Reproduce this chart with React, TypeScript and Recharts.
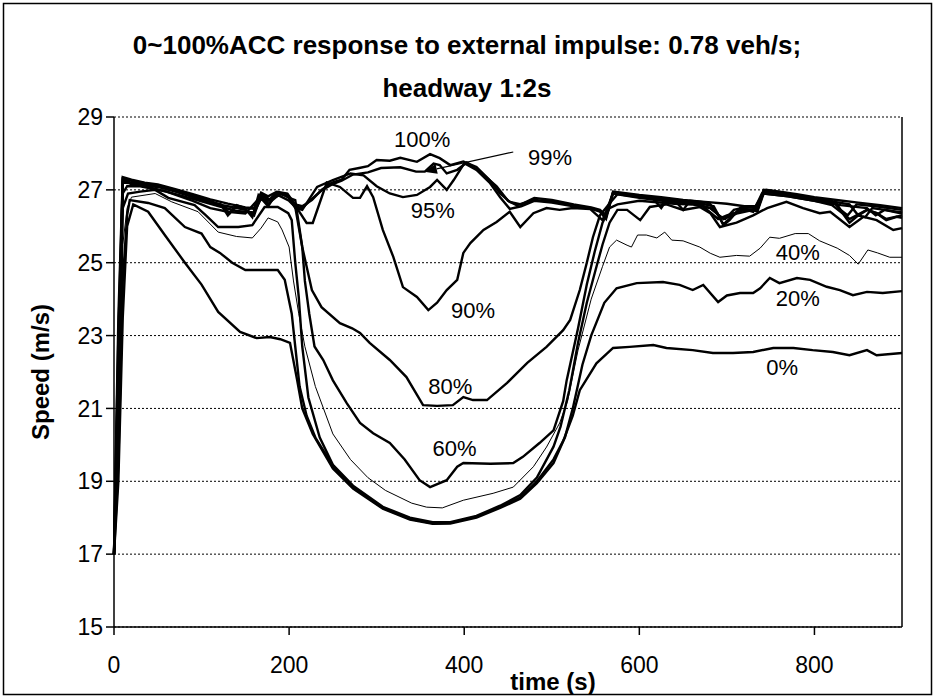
import {
  LineChart,
  Line,
  XAxis,
  YAxis,
  CartesianGrid,
  ReferenceLine,
  ReferenceDot,
} from "recharts"

const FONT = '"Liberation Sans", Arial, Helvetica, sans-serif'

// [time (s), speed (m/s)], one list per penetration rate
const acc100: [number, number][] = [
  [0, 17], [5, 23.5], [10, 27.35], [20, 27.28], [35, 27.2], [50, 27.15], [70, 27.02], [90, 26.88],
  [110, 26.74], [130, 26.62], [150, 26.52], [160, 26.5], [168, 26.92], [176, 26.82], [186, 26.95],
  [198, 26.9], [207, 26.6], [215, 26.55], [226, 26.72], [237, 27.0], [249, 27.2], [260, 27.28],
  [269, 27.55], [280, 27.6], [290, 27.65], [300, 27.82], [315, 27.8], [327, 27.88], [346, 27.77],
  [361, 27.98], [372, 27.87], [384, 27.68], [399, 27.78], [414, 27.63], [429, 27.27], [441, 26.9],
  [452, 26.67], [465, 26.6], [480, 26.78], [500, 26.72], [525, 26.6], [545, 26.52], [555, 26.45],
  [562, 26.3], [570, 26.95], [600, 26.86], [625, 26.8], [650, 26.72], [675, 26.67], [700, 26.62],
  [720, 26.55], [735, 26.55], [742, 27.0], [760, 26.95], [780, 26.88], [800, 26.8], [825, 26.72],
  [850, 26.65], [875, 26.58], [900, 26.5],
]

const acc99: [number, number][] = [
  [0, 17], [5, 23], [10, 27.3], [20, 27.25], [35, 27.18], [50, 27.12], [70, 27.0], [90, 26.85],
  [110, 26.7], [125, 26.55], [132, 26.35], [140, 26.58], [150, 26.5], [160, 26.48], [168, 26.9],
  [176, 26.7], [186, 26.93], [198, 26.88], [207, 26.55], [215, 26.5], [226, 26.75], [237, 26.98],
  [249, 27.15], [260, 27.25], [273, 27.42], [290, 27.48], [305, 27.6], [327, 27.62], [345, 27.5],
  [355, 27.5], [365, 27.72], [372, 27.68], [380, 27.45], [392, 27.55], [403, 27.75], [418, 27.5],
  [437, 27.1], [450, 26.7], [460, 26.58], [480, 26.72], [500, 26.68], [525, 26.58], [545, 26.5],
  [555, 26.42], [562, 26.25], [570, 26.93], [600, 26.84], [640, 26.72], [650, 26.45], [658, 26.7],
  [680, 26.64], [690, 26.3], [698, 26.2], [708, 26.45], [720, 26.52], [735, 26.5], [742, 26.98],
  [760, 26.92], [800, 26.77], [820, 26.7], [830, 26.45], [838, 26.3], [848, 26.6], [870, 26.55],
  [900, 26.45],
]

const acc95: [number, number][] = [
  [0, 17], [5, 22.5], [10, 27.25], [20, 27.2], [35, 27.15], [50, 27.1], [70, 26.98], [90, 26.82],
  [110, 26.66], [122, 26.6], [130, 26.3], [138, 26.55], [150, 26.48], [158, 26.25], [165, 26.85],
  [176, 26.55], [186, 26.92], [198, 26.85], [207, 26.5], [215, 26.45], [232, 27.08], [250, 27.27],
  [270, 27.45], [285, 27.4], [300, 27.1], [315, 26.9], [330, 26.8], [346, 26.86], [361, 27.08],
  [369, 27.27], [380, 27.0], [388, 27.27], [400, 27.73], [414, 27.55], [429, 27.2], [441, 26.8],
  [452, 26.48], [465, 26.55], [480, 26.7], [500, 26.65], [525, 26.55], [545, 26.48], [555, 26.4],
  [562, 26.2], [570, 26.92], [600, 26.82], [615, 26.78], [625, 26.5], [632, 26.75], [660, 26.68],
  [685, 26.55], [696, 26.05], [705, 26.25], [715, 26.48], [735, 26.45], [742, 26.95], [760, 26.9],
  [800, 26.75], [820, 26.68], [840, 26.6], [850, 26.3], [858, 26.25], [866, 26.5], [880, 26.45],
  [900, 26.38],
]

const acc90: [number, number][] = [
  [0, 17], [5, 22], [10, 27.2], [20, 27.18], [35, 27.12], [50, 27.08], [70, 26.95], [90, 26.8],
  [110, 26.64], [130, 26.55], [150, 26.45], [160, 26.3], [168, 26.85], [176, 26.6], [186, 26.9],
  [198, 26.85], [209, 26.5], [220, 26.09], [227, 26.09], [243, 27.2], [258, 27.08], [273, 26.78],
  [281, 26.78], [289, 27.1], [296, 26.8], [307, 25.9], [319, 25.16], [330, 24.33], [346, 24.06],
  [359, 23.7], [369, 23.9], [380, 24.25], [392, 24.53], [399, 25.27], [407, 25.54], [422, 25.9],
  [437, 26.12], [452, 26.4], [464, 25.98], [479, 26.36], [494, 26.5], [509, 26.45], [524, 26.5],
  [544, 26.47], [558, 26.17], [570, 26.9], [600, 26.8], [640, 26.7], [660, 26.65], [681, 26.5],
  [689, 26.36], [696, 26.03], [703, 26.17], [715, 26.5], [730, 26.4], [740, 26.9], [745, 27.0],
  [770, 26.9], [800, 26.75], [825, 26.64], [832, 26.36], [840, 26.1], [848, 26.26], [860, 26.45],
  [871, 26.36], [882, 26.17], [894, 26.26], [900, 26.23],
]

const acc80: [number, number][] = [
  [0, 17], [5, 21.5], [10, 27.3], [20, 27.15], [35, 27.1], [60, 26.95], [90, 26.75], [120, 26.55],
  [140, 26.42], [160, 26.38], [170, 26.85], [180, 26.7], [190, 26.9], [200, 26.78], [207, 26.72],
  [215, 25.43], [226, 24.25], [237, 23.78], [258, 23.34], [272, 23.2], [281, 23.07], [292, 22.8],
  [315, 22.33], [334, 21.86], [353, 21.09], [369, 21.07], [387, 21.09], [399, 21.31], [410, 21.23],
  [426, 21.23], [449, 21.7], [472, 22.25], [494, 22.69], [513, 23.15], [521, 23.43], [532, 24.25],
  [540, 25.0], [547, 25.7], [555, 26.3], [565, 26.6], [575, 26.88], [600, 26.78], [640, 26.66],
  [670, 26.6], [690, 26.2], [700, 26.3], [720, 26.45], [735, 26.42], [742, 26.9], [770, 26.82],
  [800, 26.7], [830, 26.58], [860, 26.5], [870, 26.3], [880, 26.45], [900, 26.35],
]

// unlabelled curve that also dips to the bottom and rejoins the top bundle
const accX: [number, number][] = [
  [0, 17], [5, 20.5], [10, 26.5], [16, 26.9], [30, 26.95], [47, 27.0], [62, 26.78], [92, 26.58],
  [105, 26.3], [119, 25.98], [142, 25.98], [158, 26.03], [172, 26.53], [187, 26.53], [199, 26.36],
  [203, 26.17], [207, 25.0], [211, 24.06], [215, 22.7], [222, 21.3], [235, 20.2], [250, 19.45],
  [273, 18.88], [307, 18.3], [338, 18.0], [364, 17.88], [384, 17.88], [414, 18.05], [441, 18.33],
  [464, 18.62], [483, 19.1], [502, 19.95], [510, 20.5], [520, 21.5], [530, 22.8], [540, 23.9],
  [550, 24.8], [558, 25.5], [566, 26.1], [575, 26.45], [586, 26.45], [601, 26.17], [612, 26.53],
  [631, 26.6], [650, 26.45], [669, 26.53], [681, 26.36], [692, 25.98], [711, 26.1], [730, 26.3],
  [746, 26.5], [768, 26.67], [787, 26.5], [806, 26.36], [818, 26.4], [840, 25.98], [856, 26.26],
  [871, 26.17], [890, 25.9], [900, 25.95],
]

const acc60: [number, number][] = [
  [0, 17], [5, 21], [10, 26.9], [15, 27.1], [30, 27.1], [60, 26.95], [90, 26.7], [110, 26.5],
  [130, 26.4], [150, 26.35], [165, 26.75], [175, 26.7], [188, 26.85], [200, 26.7], [207, 26.53],
  [215, 25.43], [218, 24.5], [223, 23.6], [229, 22.7], [239, 22.33], [250, 21.77], [266, 21.14],
  [281, 20.6], [296, 20.32], [315, 20.05], [332, 19.6], [349, 19.03], [361, 18.84], [380, 19.03],
  [392, 19.4], [399, 19.5], [430, 19.48], [456, 19.5], [467, 19.67], [486, 20.05], [502, 20.4],
  [513, 21.2], [517, 21.77], [530, 23.2], [540, 24.4], [549, 25.3], [558, 26.1], [566, 26.5],
  [575, 26.6], [600, 26.7], [640, 26.62], [660, 26.6], [681, 26.5], [696, 26.2], [711, 26.35],
  [730, 26.45], [742, 26.9], [770, 26.82], [800, 26.7], [820, 26.58], [832, 26.36], [840, 26.2],
  [860, 26.45], [871, 26.36], [882, 26.2], [900, 26.3],
]

const acc40: [number, number][] = [
  [0, 17], [5, 20], [10, 25.5], [15, 26.5], [20, 26.8], [47, 26.9], [66, 26.67], [96, 26.4],
  [119, 25.84], [140, 25.72], [158, 25.68], [168, 25.95], [176, 26.23], [187, 26.12], [192, 25.9],
  [200, 25.43], [205, 24.5], [211, 23.6], [218, 22.7], [230, 21.6], [250, 20.3], [270, 19.6],
  [290, 19.1], [310, 18.75], [340, 18.4], [357, 18.29], [375, 18.27], [399, 18.48], [433, 18.67],
  [456, 18.84], [479, 19.4], [494, 19.94], [509, 20.6], [518, 21.2], [530, 22.6], [545, 24.0],
  [558, 24.9], [566, 25.43], [574, 25.62], [586, 25.48], [591, 25.43], [598, 25.76], [608, 25.76],
  [620, 25.68], [629, 25.84], [637, 25.62], [650, 25.6], [669, 25.43], [681, 25.26], [692, 25.15],
  [711, 25.2], [726, 25.18], [738, 25.4], [749, 25.7], [760, 25.67], [778, 25.8], [793, 25.8],
  [806, 25.6], [826, 25.4], [840, 25.2], [850, 24.96], [861, 25.35], [872, 25.27], [886, 25.15],
  [900, 25.15],
]

const acc20: [number, number][] = [
  [0, 17], [5, 19.5], [10, 24.5], [15, 26.3], [18, 26.72], [39, 26.64], [58, 26.5], [81, 25.98],
  [100, 25.8], [110, 25.43], [121, 25.27], [135, 25.0], [150, 24.8], [187, 24.8], [195, 24.53],
  [203, 23.6], [207, 22.7], [212, 21.6], [220, 20.8], [230, 20.2], [252, 19.35], [275, 18.8],
  [307, 18.27], [338, 17.97], [364, 17.85], [384, 17.86], [414, 18.03], [441, 18.3], [464, 18.55],
  [483, 19.0], [502, 19.6], [515, 20.2], [524, 21.0], [535, 22.2], [545, 23.0], [560, 23.9],
  [574, 24.3], [597, 24.44], [627, 24.47], [646, 24.39], [661, 24.25], [673, 24.39], [690, 23.92],
  [700, 24.1], [715, 24.17], [730, 24.17], [738, 24.3], [749, 24.58], [760, 24.44], [780, 24.58],
  [795, 24.53], [814, 24.34], [829, 24.25], [844, 24.11], [860, 24.2], [878, 24.17], [900, 24.22],
]

const acc0: [number, number][] = [
  [0, 17], [5, 19], [10, 23.5], [15, 26.0], [22, 26.6], [39, 26.4], [58, 25.76], [81, 25.0],
  [100, 24.4], [119, 23.65], [144, 23.1], [163, 22.93], [178, 22.96], [190, 22.9], [201, 22.8],
  [205, 22.3], [209, 21.8], [215, 21.0], [227, 20.3], [250, 19.35], [273, 18.8], [307, 18.25],
  [338, 17.95], [364, 17.83], [384, 17.84], [414, 18.0], [441, 18.27], [464, 18.52], [483, 18.95],
  [502, 19.5], [513, 20.1], [524, 20.8], [532, 21.5], [551, 22.24], [570, 22.66], [589, 22.69],
  [616, 22.74], [631, 22.66], [661, 22.6], [684, 22.52], [707, 22.52], [730, 22.55], [753, 22.66],
  [776, 22.66], [798, 22.6], [821, 22.55], [840, 22.46], [860, 22.6], [871, 22.46], [900, 22.52],
]

const xTicks = [0, 200, 400, 600, 800]
const yTicks = [15, 17, 19, 21, 23, 25, 27, 29]

// curve labels, anchored in data units (time, speed)
const curveLabels = [
  { text: "100%", t: 352, v: 28.4 },
  { text: "99%", t: 498, v: 27.9 },
  { text: "95%", t: 364, v: 26.45 },
  { text: "90%", t: 410, v: 23.7 },
  { text: "80%", t: 384, v: 21.6 },
  { text: "60%", t: 389, v: 19.9 },
  { text: "40%", t: 781, v: 25.3 },
  { text: "20%", t: 781, v: 24.03 },
  { text: "0%", t: 763, v: 22.14 },
]

// leader from the "99%" label to its curve
const arrow99 = [{ x: 456, y: 28.04 }, { x: 354, y: 27.5 }]

const toPts = (a: [number, number][]) => a.map(([t, v]) => ({ t, v }))

const series = [
  { key: "0%", pts: acc0, thin: false },
  { key: "20%", pts: acc20, thin: false },
  { key: "40%", pts: acc40, thin: true },
  { key: "60%", pts: acc60, thin: false },
  { key: "x", pts: accX, thin: false },
  { key: "80%", pts: acc80, thin: false },
  { key: "90%", pts: acc90, thin: false },
  { key: "95%", pts: acc95, thin: false },
  { key: "99%", pts: acc99, thin: false },
  { key: "100%", pts: acc100, thin: false },
]

const ArrowShape = (p: any) => {
  const { x1, y1, x2, y2 } = p
  const ang = Math.atan2(y2 - y1, x2 - x1)
  const len = 13
  const half = 5
  const bx = x2 - len * Math.cos(ang)
  const by = y2 - len * Math.sin(ang)
  const px = -Math.sin(ang) * half
  const py = Math.cos(ang) * half
  return (
    <g>
      <line x1={x1} y1={y1} x2={bx} y2={by} stroke="#000" strokeWidth={1.2} />
      <polygon points={`${x2},${y2} ${bx + px},${by + py} ${bx - px},${by - py}`} fill="#000" />
    </g>
  )
}

export default function App() {
  return (
    <div style={{ position: "absolute", left: 0, top: 0, width: 935, height: 698, background: "#fff" }}>
      <LineChart
        width={935}
        height={698}
        margin={{ top: 117, right: 33, left: 34, bottom: 21 }}
        style={{ fontFamily: FONT }}
      >
        <CartesianGrid horizontal={true} vertical={false} stroke="#000" strokeDasharray="2 2" strokeWidth={1} />
        <XAxis
          type="number"
          dataKey="t"
          domain={[0, 900]}
          ticks={xTicks}
          height={50}
          tickSize={8}
          tickMargin={22}
          stroke="#000"
          strokeWidth={1.5}
          tick={{ fill: "#000", fontSize: 23, fontFamily: FONT }}
        />
        <YAxis
          type="number"
          domain={[15, 29]}
          ticks={yTicks}
          width={80}
          tickSize={8}
          tickMargin={3}
          stroke="#000"
          strokeWidth={1.5}
          tick={{ fill: "#000", fontSize: 23, fontFamily: FONT }}
        />
        <ReferenceLine x={900} stroke="#000" strokeWidth={1.5} />
        {series.map((s) => (
          <Line
            key={s.key}
            data={toPts(s.pts)}
            dataKey="v"
            type="linear"
            stroke="#000"
            strokeWidth={s.thin ? 1 : 2.4}
            dot={false}
            activeDot={false}
            isAnimationActive={false}
          />
        ))}
        <ReferenceLine segment={arrow99} shape={ArrowShape} />
        {curveLabels.map((l) => (
          <ReferenceDot
            key={l.text}
            x={l.t}
            y={l.v}
            r={1}
            fill="none"
            stroke="none"
            label={{ value: l.text, position: "center", fill: "#000", fontSize: 22, fontFamily: FONT }}
          />
        ))}
      </LineChart>
      <svg
        width={935}
        height={698}
        style={{ position: "absolute", left: 0, top: 0, pointerEvents: "none", fontFamily: FONT }}
      >
        <rect x={3.5} y={3.5} width={928} height={691} fill="none" stroke="#000" strokeWidth={1.5} />
        <text x={467} y={54} textAnchor="middle" fontSize={26} fontWeight="bold">
          0~100%ACC response to external impulse: 0.78 veh/s;
        </text>
        <text x={467} y={97} textAnchor="middle" fontSize={26} fontWeight="bold">
          headway 1:2s
        </text>
        <text
          x={40}
          y={372}
          textAnchor="middle"
          dominantBaseline="central"
          fontSize={24}
          fontWeight="bold"
          transform="rotate(-90 40 372)"
        >
          Speed (m/s)
        </text>
        <text x={553} y={690} textAnchor="middle" fontSize={24} fontWeight="bold">
          time (s)
        </text>
      </svg>
    </div>
  )
}
